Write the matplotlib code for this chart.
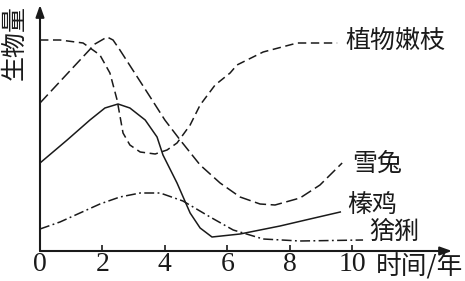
import matplotlib
matplotlib.use("Agg")
import matplotlib.pyplot as plt

plt.rcParams['font.family'] = ['Noto Sans CJK SC', 'DejaVu Sans']

# Data (time in years, biomass in arbitrary units)
plant_x = [0, 0.64, 1.38, 1.92, 2.24, 2.47, 2.66, 2.88, 3.21, 3.69, 4.07, 4.39, 4.81, 5.13, 5.61, 6.09, 6.31, 7.15, 8.24, 9.52]
plant_y = [10.55, 10.55, 10.4, 9.8, 8.9, 7.55, 5.9, 5.3, 4.95, 4.85, 5.05, 5.4, 6.3, 7.3, 8.3, 8.9, 9.3, 9.95, 10.4, 10.4]

hare_x = [0, 1.76, 2.15, 2.34, 2.56, 3.53, 4.0, 4.49, 5.13, 5.77, 6.41, 7.05, 7.53, 8.33, 8.97, 9.68]
hare_y = [7.4, 10.35, 10.7, 10.55, 10.05, 7.7, 6.55, 5.55, 4.3, 3.4, 2.7, 2.35, 2.3, 2.65, 3.3, 4.4]

grouse_x = [0, 0.87, 1.6, 2.08, 2.5, 2.88, 3.37, 3.75, 3.94, 4.39, 4.81, 5.13, 5.51, 6.41, 7.69, 8.65, 9.62]
grouse_y = [4.4, 5.55, 6.55, 7.15, 7.35, 7.15, 6.55, 5.7, 4.8, 3.4, 1.9, 1.15, 0.7, 0.85, 1.25, 1.6, 1.95]

lynx_x = [0, 0.64, 1.28, 1.92, 2.56, 3.21, 3.85, 4.58, 5.45, 6.19, 7.15, 8.33, 10.35]
lynx_y = [1.1, 1.45, 1.9, 2.35, 2.7, 2.9, 2.9, 2.5, 1.7, 1.05, 0.6, 0.5, 0.55]

xticks = [0, 2, 4, 6, 8, 10]
labels = ['植物嫩枝', '雪兔', '榛鸡', '猞猁']
label_pos = [(11.38, 10.5), (10.8, 4.3), (10.64, 2.25), (11.35, 0.95)]

ink = '#1a1a1a'
fig = plt.figure(figsize=(4.65, 2.81), dpi=100)
ax = fig.add_axes([40/465, 30/281, 412/465, 246/281])
ax.set_xlim(0, 13.2)
ax.set_ylim(0, 12.3)

lw = 1.1
ax.plot(plant_x, plant_y, color=ink, lw=lw, dashes=(5.5, 3), solid_joinstyle='round')
ax.plot(hare_x, hare_y, color=ink, lw=lw, dashes=(7.5, 3), solid_joinstyle='round')
ax.plot(grouse_x, grouse_y, color=ink, lw=lw)
ax.plot(lynx_x, lynx_y, color=ink, lw=lw, dashes=(6.5, 2.2, 1.2, 2.2))

for sp in ax.spines.values():
    sp.set_visible(False)

ax.annotate('', xy=(1, 0), xytext=(0, 0), xycoords='axes fraction',
            arrowprops=dict(arrowstyle='-|>,head_length=0.7,head_width=0.25', lw=1.5, color=ink, shrinkA=0, shrinkB=0))
ax.annotate('', xy=(0, 1), xytext=(0, 0), xycoords='axes fraction',
            arrowprops=dict(arrowstyle='-|>,head_length=0.7,head_width=0.25', lw=1.5, color=ink, shrinkA=0, shrinkB=0))

ax.set_xticks(xticks)
ax.set_xticklabels([str(t) for t in xticks], fontfamily='Liberation Serif', fontsize=20, color=ink)
ax.tick_params(axis='x', direction='in', length=4, width=1.2, color=ink, pad=1)
ax.set_yticks([])

for lab, (lx, ly) in zip(labels, label_pos):
    ax.text(lx, ly, lab, fontsize=18, ha='center', va='center', color=ink)

ax.text(12.15, -0.75, '时间/年', fontsize=18.5, ha='center', va='center', color=ink, clip_on=False)
ax.text(-0.8, 10.4, '生物量', fontsize=18, ha='center', va='center', rotation=90, color=ink, clip_on=False)

fig.savefig('out.png', dpi=100)
